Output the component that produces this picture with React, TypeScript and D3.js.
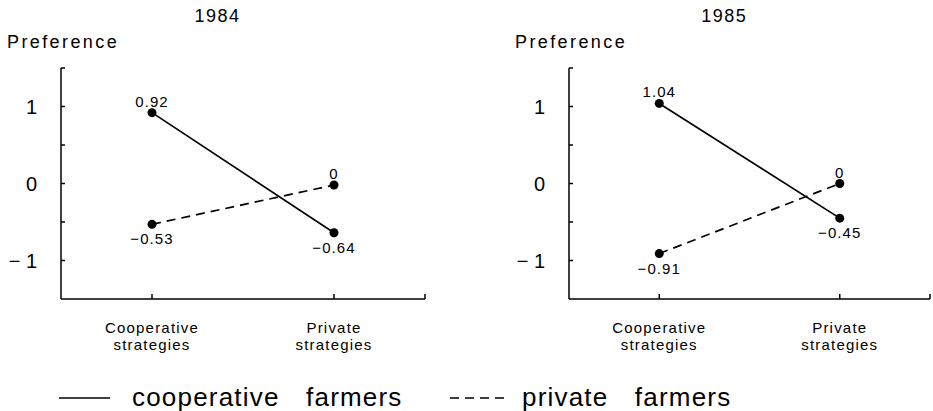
import React from "react";
import * as d3 from "d3";

const years = ["1984", "1985"];
const categories = ["Cooperative strategies", "Private strategies"];
const categoryLines = [["Cooperative", "strategies"], ["Private", "strategies"]];
const coopFarmers1984 = [0.92, -0.64];
const privateFarmers1984 = [-0.53, -0.02];
const coopFarmers1985 = [1.04, -0.45];
const privateFarmers1985 = [-0.91, 0.0];
const coopLabels1984 = ["0.92", "−0.64"];
const privateLabels1984 = ["−0.53", "0"];
const coopLabels1985 = ["1.04", "−0.45"];
const privateLabels1985 = ["−0.91", "0"];
const yTicks = [-1, -0.5, 0, 0.5, 1, 1.5];
const yTickLabels = [-1, 0, 1];
const seriesNames = ["cooperative farmers", "private farmers"];

const FONT = "'Liberation Sans', Arial, Helvetica, sans-serif";

const panels = [
  { year: years[0], coop: coopFarmers1984, priv: privateFarmers1984, coopL: coopLabels1984, privL: privateLabels1984, x0: 61, x1: 425 },
  { year: years[1], coop: coopFarmers1985, priv: privateFarmers1985, coopL: coopLabels1985, privL: privateLabels1985, x0: 569, x1: 930 },
];

const yTop = 68;
const yBottom = 299;

function Panel({ p }: { p: any }) {
  const x = d3.scalePoint<string>().domain(categories).range([p.x0, p.x1]).padding(0.5);
  const y = d3.scaleLinear().domain([-1.5, 1.5]).range([yBottom, yTop]);
  const line = d3
    .line<number>()
    .x((_, i) => x(categories[i]) as number)
    .y((d) => y(d));
  const fmtTick = (d: number) => (d < 0 ? "− " + Math.abs(d) : String(d));
  const series = [
    { vals: p.coop, labels: p.coopL, dash: undefined },
    { vals: p.priv, labels: p.privL, dash: "9,6" },
  ];
  return (
    <g>
      <text x={p.x0 + (p.x1 - p.x0) * 0.43} y={22} textAnchor="middle" fontSize={18} letterSpacing={1.5} fontFamily={FONT}>
        {p.year}
      </text>
      <text x={p.x0 - 54} y={48} fontSize={18} letterSpacing={2.4} fontFamily={FONT}>
        Preference
      </text>
      {/* y axis */}
      <line x1={p.x0} x2={p.x0} y1={y(1.5)} y2={y(-1.5)} stroke="#000" strokeWidth={1.5} />
      {yTicks.map((t) => (
        <line key={t} x1={p.x0} x2={p.x0 + 4} y1={y(t)} y2={y(t)} stroke="#000" strokeWidth={1.5} />
      ))}
      {yTickLabels.map((t) => (
        <text key={t} x={p.x0 - 24} y={y(t)} dy="0.36em" textAnchor="end" fontSize={20} fontFamily={FONT}>
          {fmtTick(t)}
        </text>
      ))}
      {/* x axis */}
      <line x1={p.x0} x2={p.x1} y1={yBottom} y2={yBottom} stroke="#000" strokeWidth={1.5} />
      {categories.map((c) => (
        <line key={c} x1={x(c)} x2={x(c)} y1={yBottom} y2={yBottom - 5} stroke="#000" strokeWidth={1.5} />
      ))}
      <line x1={p.x1} x2={p.x1} y1={yBottom} y2={yBottom - 5} stroke="#000" strokeWidth={1.5} />
      {categories.map((c, i) => (
        <text key={c} x={x(c)} textAnchor="middle" fontSize={15} letterSpacing={1.2} fontFamily={FONT}>
          <tspan x={x(c)} y={333}>{categoryLines[i][0]}</tspan>
          <tspan x={x(c)} y={350}>{categoryLines[i][1]}</tspan>
        </text>
      ))}
      {series.map((s, si) => (
        <g key={si}>
          <path d={line(s.vals) as string} fill="none" stroke="#000" strokeWidth={1.7} strokeDasharray={s.dash} />
          {s.vals.map((v: number, i: number) => (
            <circle key={i} cx={x(categories[i])} cy={y(v)} r={4.5} fill="#000" />
          ))}
          {s.vals.map((v: number, i: number) => (
            <text
              key={"l" + i}
              x={x(categories[i])}
              y={v > -0.3 ? y(v) - 6 : y(v) + 20}
              textAnchor="middle"
              fontSize={15}
              letterSpacing={1.1}
              fontFamily={FONT}
            >
              {s.labels[i]}
            </text>
          ))}
        </g>
      ))}
    </g>
  );
}

export default function App() {
  return (
    <svg width={933} height={411} style={{ position: "absolute", left: 0, top: 0, background: "#fff" }}>
      {panels.map((p) => (
        <Panel key={p.year} p={p} />
      ))}
      {/* legend */}
      <line x1={59} x2={110} y1={398} y2={398} stroke="#000" strokeWidth={1.6} />
      <text x={132} y={406} fontSize={26} letterSpacing={1.2} wordSpacing={18} fontFamily={FONT}>
        {seriesNames[0]}
      </text>
      <line x1={450} x2={507} y1={398} y2={398} stroke="#000" strokeWidth={1.6} strokeDasharray="9,6" />
      <text x={522} y={406} fontSize={26} letterSpacing={1.2} wordSpacing={18} fontFamily={FONT}>
        {seriesNames[1]}
      </text>
    </svg>
  );
}
